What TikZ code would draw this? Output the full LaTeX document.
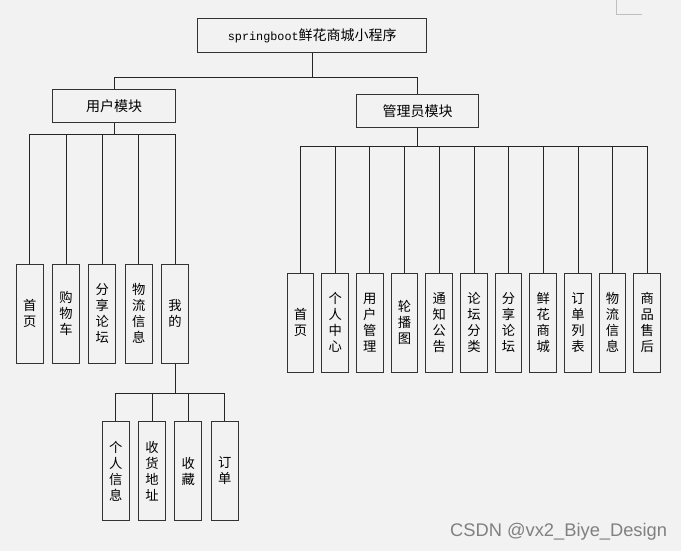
\documentclass[tikz,border=0pt]{standalone}
\usepackage{fontspec}
\setmainfont{Liberation Sans}
\newfontfamily\cjk{Noto Sans CJK SC}
\newfontfamily\monof{Liberation Mono}
\definecolor{bg}{RGB}{242,242,242}
\begin{document}
\begin{tikzpicture}[x=1pt,y=-1pt,
  box/.style={draw=black!80, line width=1pt, fill=bg, inner sep=0pt, align=center,
    font=\cjk\fontsize{13.3}{16}\selectfont},
  modbox/.style={box, minimum width=122.4pt, minimum height=33.3pt,
    font=\cjk\fontsize{14}{16}\selectfont},
  vbox/.style={box, minimum width=26.7pt, minimum height=99pt},
  link/.style={draw=black!85, line width=0.8pt}]
\fill[bg] (0,0) rectangle (681,551);
\useasboundingbox (0,0) rectangle (681,551);
% page corner mark
\draw[black!25, line width=0.8pt] (616.7,0) -- (616.7,14.3) -- (641.7,14.3);
% bus levels
\coordinate (b1) at (0,77);
\coordinate (b2) at (0,134.3);
\coordinate (b3) at (0,146.7);
\coordinate (b4) at (0,393.3);
% top
\node[box, minimum width=229pt, minimum height=33.3pt, font=\cjk\fontsize{14}{16}\selectfont] (title) at (312.3,35.4)
  {{\monof\fontsize{11.8}{16}\selectfont springboot}鲜花商城小程序};
\node[modbox] (user) at (114,106) {用户模块};
\node[modbox] (admin) at (417.5,111.2) {管理员模块};
\draw[link] (title.south) -- (title.south |- b1) -| (user.north);
\draw[link] (title.south |- b1) -| (admin.north);
% user children
\foreach \x/\t/\n in {29.7/首\\页/u1, 66/购\\物\\车/u2, 102.2/分\\享\\论\\坛/u3, 138.7/物\\流\\信\\息/u4, 175/我\\的/u5}{
  \node[vbox] (\n) at (\x,313.8) {\t};
  \draw[link] (user.south) -- (user.south |- b2) -| (\n.north);
}
% my children
\foreach \x/\t/\n in {115.7/个\\人\\信\\息/m1, 152/收\\货\\地\\址/m2, 188.3/收\\藏/m3, 224.7/订\\单/m4}{
  \node[vbox, minimum height=98.6pt] (\n) at (\x,471) {\t};
  \draw[link] (u5.south) -- (u5.south |- b4) -| (\n.north);
}
% admin children
\foreach \i/\t in {0/首\\页, 1/个\\人\\中\\心, 2/用\\户\\管\\理, 3/轮\\播\\图, 4/通\\知\\公\\告, 5/论\\坛\\分\\类, 6/分\\享\\论\\坛, 7/鲜\\花\\商\\城, 8/订\\单\\列\\表, 9/物\\流\\信\\息, 10/商\\品\\售\\后}{
  \node[vbox, minimum height=98.7pt] (a\i) at (300.5+34.68*\i,322.7) {\t};
  \draw[link] (admin.south) -- (admin.south |- b3) -| (a\i.north);
}
% watermark
\node[anchor=base west, inner sep=0pt, font=\fontsize{18.3}{18}\selectfont, text=black!50] (wm) at (450,536.7) {CSDN @vx2\_Biye\_Design};
\end{tikzpicture}
\end{document}
